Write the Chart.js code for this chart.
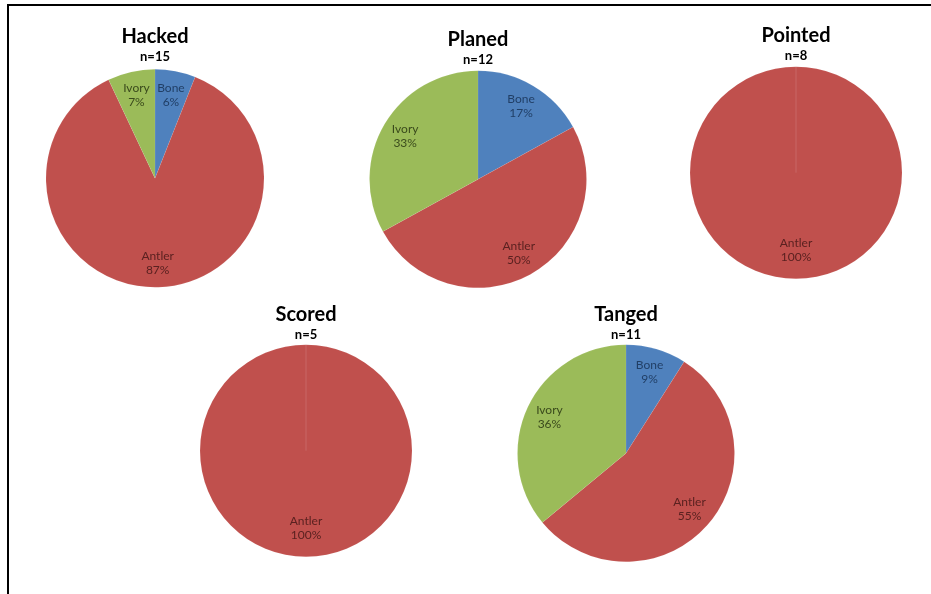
<!DOCTYPE html>
<html>
<head>
<meta charset="utf-8">
<title>Raw material by modification type</title>
<script src="https://cdn.jsdelivr.net/npm/chart.js@4/dist/chart.umd.min.js"></script>
<style>
  html, body { margin: 0; padding: 0; background: #fff; }
  body { width: 931px; height: 594px; position: relative; overflow: hidden; }
  .frame { position: absolute; left: 7px; top: 4px; width: 940px; height: 600px;
           border-top: 2px solid #000; border-left: 2px solid #000; }
  .pie { position: absolute; }
</style>
</head>
<body>
<div class="frame"></div>
<div id="host"></div>
<script>
// Raw material categories, in slice order (clockwise from 12 o'clock)
const categories = ['Bone', 'Antler', 'Ivory'];

// Percentage of each raw material per modification type
const chartTitles  = ['Hacked', 'Planed', 'Pointed', 'Scored', 'Tanged'];
const sampleSizes  = [15, 12, 8, 5, 11];
const boneValues   = [6, 17, 0, 0, 9];
const antlerValues = [87, 50, 100, 100, 55];
const ivoryValues  = [7, 33, 0, 0, 36];

// Styling
const sliceColors = ['#4f81bd', '#c0504d', '#9bbb59'];
const labelColors = ['#213f66', '#5a2120', '#3a4a1c'];
const FONT = 'Lato, "Open Sans", "Liberation Sans", sans-serif';

// Placement of each pie on the page: box and radius (px)
const boxes = [
  { left: 35,    top: 26,   width: 240, height: 266, radius: 109 },
  { left: 357.5, top: 28.5, width: 240, height: 262, radius: 108.5 },
  { left: 675.5, top: 25,   width: 240, height: 257, radius: 106 },
  { left: 186,   top: 304,  width: 240, height: 255, radius: 106 },
  { left: 506,   top: 304,  width: 240, height: 260, radius: 108.5 }
];

// Category + percentage labels placed inside each slice
const sliceLabels = {
  id: 'sliceLabels',
  afterDatasetsDraw(chart) {
    const ctx = chart.ctx;
    const meta = chart.getDatasetMeta(0);
    const values = chart.data.datasets[0].data;
    ctx.save();
    ctx.font = '12px ' + FONT;
    ctx.textAlign = 'center';
    ctx.textBaseline = 'middle';
    meta.data.forEach((arc, i) => {
      const v = values[i];
      if (!v) return;
      const p = arc.getProps(['x', 'y', 'startAngle', 'endAngle', 'outerRadius'], true);
      const mid = (p.startAngle + p.endAngle) / 2;
      const full = (p.endAngle - p.startAngle) >= Math.PI * 2 - 1e-6;
      const d = p.outerRadius * (full ? 0.73 : 0.78);
      const x = p.x + Math.cos(mid) * d;
      const y = p.y + Math.sin(mid) * d;
      ctx.fillStyle = labelColors[i];
      ctx.fillText(chart.data.labels[i], x, y - 7);
      ctx.fillText(v + '%', x, y + 7);
    });
    ctx.restore();
  }
};

const host = document.getElementById('host');

chartTitles.forEach((name, k) => {
  const b = boxes[k];
  const wrap = document.createElement('div');
  wrap.className = 'pie';
  wrap.style.left = b.left + 'px';
  wrap.style.top = b.top + 'px';
  wrap.style.width = b.width + 'px';
  wrap.style.height = b.height + 'px';
  const canvas = document.createElement('canvas');
  canvas.width = b.width;
  canvas.height = b.height;
  wrap.appendChild(canvas);
  host.appendChild(wrap);

  new Chart(canvas, {
    type: 'pie',
    data: {
      labels: categories,
      datasets: [{
        data: [boneValues[k], antlerValues[k], ivoryValues[k]],
        backgroundColor: sliceColors,
        borderColor: 'rgba(255,255,255,0.12)',
        borderWidth: 0.6
      }]
    },
    options: {
      responsive: false,
      animation: false,
      radius: b.radius,
      layout: { padding: 0 },
      plugins: {
        legend: { display: false },
        tooltip: { enabled: false },
        title: {
          display: true,
          text: name,
          color: '#000',
          font: { family: FONT, size: 20, weight: 'bold', lineHeight: 1.05 },
          padding: { top: 0, bottom: 0 }
        },
        subtitle: {
          display: true,
          text: 'n=' + sampleSizes[k],
          color: '#000',
          font: { family: FONT, size: 13, weight: 'bold', lineHeight: 1.2 },
          padding: { top: 2, bottom: 0 }
        }
      }
    },
    plugins: [sliceLabels]
  });
});
</script>
</body>
</html>
